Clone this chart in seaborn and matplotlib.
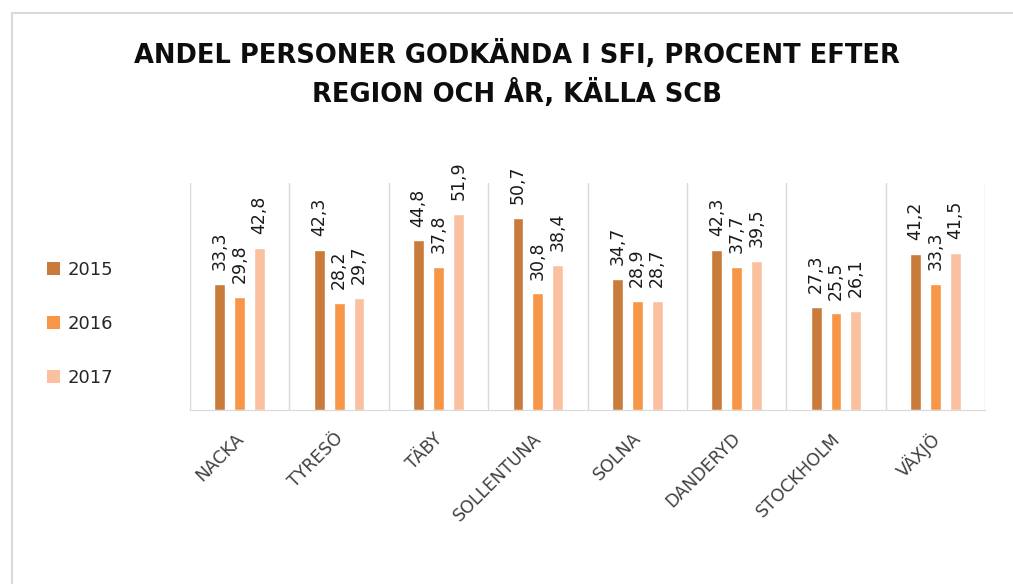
import numpy as np
import matplotlib
matplotlib.use("Agg")
import matplotlib.pyplot as plt
import matplotlib.transforms as mtransforms
import seaborn as sns
import pandas as pd
from matplotlib.patches import Rectangle, Patch
from matplotlib.ticker import FixedLocator

# data
regions = ['NACKA', 'TYRESÖ', 'TÄBY', 'SOLLENTUNA', 'SOLNA', 'DANDERYD', 'STOCKHOLM', 'VÄXJÖ']
years = ['2015', '2016', '2017']
v2015 = [33.3, 42.3, 44.8, 50.7, 34.7, 42.3, 27.3, 41.2]
v2016 = [29.8, 28.2, 37.8, 30.8, 28.9, 37.7, 25.5, 33.3]
v2017 = [42.8, 29.7, 51.9, 38.4, 28.7, 39.5, 26.1, 41.5]
colors = ['#C97B3B', '#F79646', '#FAC0A0']

df = pd.DataFrame({
    'Region': regions * 3,
    'Year': [years[0]] * 8 + [years[1]] * 8 + [years[2]] * 8,
    'Andel': v2015 + v2016 + v2017,
})

sns.set_style("white")
plt.rcParams['font.family'] = ['DejaVu Sans']

fig = plt.figure(figsize=(10.13, 5.84), dpi=100)
ax = fig.add_axes([0.1876, 0.298, 0.7848, 0.3887])

sns.barplot(data=df, x='Region', y='Andel', hue='Year', palette=colors,
            width=0.6, gap=0.45, ax=ax, legend=False, saturation=1)

for cont in ax.containers:
    labels = [f"{b.get_height():.1f}".replace('.', ',') for b in cont]
    ax.bar_label(cont, labels=labels, rotation=90, padding=10,
                 fontsize=12.5, color='#1A1A1A')

ax.set_ylim(0, 60)
ax.set_xlim(-0.5, len(regions) - 0.5)
ax.set_yticks([])
ax.set_xlabel('')
ax.set_ylabel('')
ax.xaxis.set_minor_locator(FixedLocator(np.arange(-0.5, len(regions), 1.0)))
ax.grid(axis='x', which='minor', color='#D9D9D9', linewidth=1)
ax.tick_params(axis='x', which='both', length=0, pad=14)
ax.set_xticks(range(len(regions)))
ax.set_xticklabels(regions, rotation=45, ha='right', rotation_mode='anchor',
                   fontsize=12.5, color='#404040')
shift = mtransforms.ScaledTranslation(-5 / 100, 0, fig.dpi_scale_trans)
for lab in ax.get_xticklabels():
    lab.set_transform(lab.get_transform() + shift)
for s in ['top', 'left', 'right']:
    ax.spines[s].set_visible(False)
ax.spines['bottom'].set_color('#D9D9D9')

fig.text(0.51, 0.873, 'ANDEL PERSONER GODKÄNDA I SFI, PROCENT EFTER\nREGION OCH ÅR, KÄLLA SCB',
         ha='center', va='center', fontsize=18.5, fontweight='bold',
         color='#0D0D0D', linespacing=1.45)

handles = [Patch(facecolor=c, edgecolor='none') for c in colors]
fig.legend(handles, years, loc='center left', bbox_to_anchor=(0.03, 0.445),
           frameon=False, fontsize=13, handlelength=0.72, handleheight=0.72,
           handletextpad=0.45, labelspacing=2.0, labelcolor='#262626')

fig.patches.append(Rectangle((12 / 1013, -0.1), 1.2, (584 - 13) / 584 + 0.1,
                             transform=fig.transFigure, fill=False,
                             edgecolor='#D9D9D9', linewidth=1.5))

fig.savefig('out.png', dpi=100)
